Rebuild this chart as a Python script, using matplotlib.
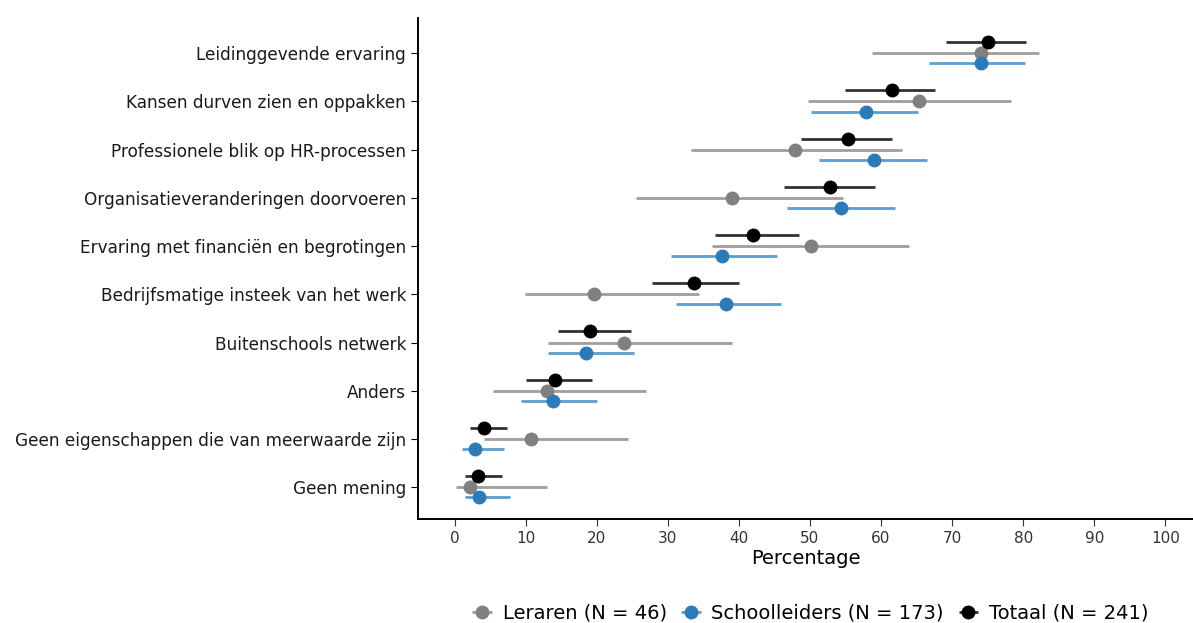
import matplotlib

matplotlib.use("Agg")
import matplotlib.pyplot as plt  # noqa: E402
import numpy as np  # noqa: E402

categories = [
    "Leidinggevende ervaring",
    "Kansen durven zien en oppakken",
    "Professionele blik op HR-processen",
    "Organisatieveranderingen doorvoeren",
    "Ervaring met financiën en begrotingen",
    "Bedrijfsmatige insteek van het werk",
    "Buitenschools netwerk",
    "Anders",
    "Geen eigenschappen die van meerwaarde zijn",
    "Geen mening",
]

# point estimate, lower and upper bound per group
leraren = [74.0, 65.3, 47.9, 39.1, 50.1, 19.6, 23.9, 13.0, 10.8, 2.1]
leraren_lo = [58.7, 49.7, 33.2, 25.5, 36.2, 9.9, 13.1, 5.4, 4.1, 0.2]
leraren_hi = [82.3, 78.3, 62.9, 54.6, 64.0, 34.4, 39.1, 26.9, 24.4, 13.0]

schoolleiders = [74.1, 57.9, 59.0, 54.4, 37.6, 38.2, 18.5, 13.8, 2.9, 3.4]
schoolleiders_lo = [66.8, 50.2, 51.3, 46.7, 30.4, 31.1, 13.2, 9.3, 1.1, 1.4]
schoolleiders_hi = [80.3, 65.2, 66.4, 62.0, 45.3, 45.9, 25.3, 20.1, 7.0, 7.8]

totaal = [75.1, 61.5, 55.3, 52.8, 42.0, 33.7, 19.1, 14.1, 4.1, 3.3]
totaal_lo = [69.2, 55.0, 48.8, 46.3, 36.7, 27.8, 14.5, 10.1, 2.1, 1.5]
totaal_hi = [80.4, 67.6, 61.6, 59.2, 48.5, 40.0, 24.8, 19.3, 7.3, 6.6]

series = [
    ("Leraren (N = 46)", leraren, leraren_lo, leraren_hi, "#808080", "#9e9e9e", 0.0),
    ("Schoolleiders (N = 173)", schoolleiders, schoolleiders_lo, schoolleiders_hi,
     "#2b7bba", "#5a9fd0", -0.21),
    ("Totaal (N = 241)", totaal, totaal_lo, totaal_hi, "#000000", "#333333", 0.23),
]

fig = plt.figure(figsize=(11.93, 6.23), dpi=100)
ax = fig.add_axes([0.3504, 0.167, 0.6496, 0.804])

ypos = np.arange(len(categories))[::-1] + 1.0

for label, vals, lo, hi, pcol, lcol, off in series:
    v = np.array(vals)
    err = np.vstack([v - np.array(lo), np.array(hi) - v])
    ax.errorbar(v, ypos + off, xerr=err, fmt="o", color=pcol, ecolor=lcol,
                elinewidth=2.0, capsize=0, markersize=9, label=label, zorder=3)

ax.set_yticks(ypos)
ax.set_yticklabels(categories, fontsize=12.2, color="#1a1a1a")
ax.set_xticks(np.arange(0, 101, 10))
ax.tick_params(axis="x", labelsize=11, colors="#333333", length=5)
ax.tick_params(axis="y", length=5, pad=3.5)
ax.set_xlim(-5.15, 103.9)
ax.set_ylim(0.34, 10.73)
ax.set_xlabel("Percentage", fontsize=14, labelpad=2)

for side in ("top", "right"):
    ax.spines[side].set_visible(False)
for side in ("left", "bottom"):
    ax.spines[side].set_linewidth(1.4)

handles, labels = ax.get_legend_handles_labels()
fig.legend(handles, labels, loc="center", bbox_to_anchor=(0.678, 0.016),
           ncol=3, frameon=False, fontsize=14, handletextpad=0.4,
           columnspacing=0.6, handlelength=1.3)

fig.savefig("out.png", dpi=100)
